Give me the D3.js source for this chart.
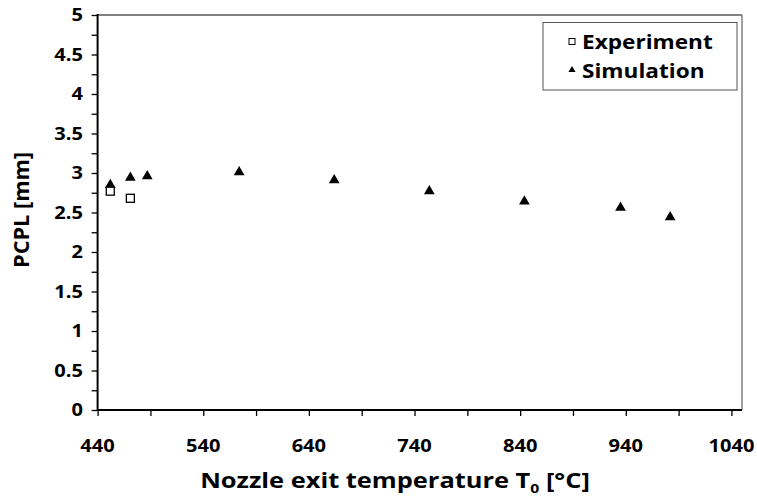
<!DOCTYPE html>
<html><head><meta charset="utf-8">
<script src="https://cdn.jsdelivr.net/npm/d3@7/dist/d3.min.js"></script>
<style>body{margin:0;background:#fff}svg text{font-family:"Open Sans",sans-serif;font-weight:bold;fill:#000}</style>
</head><body>
<svg id="c" width="757" height="499"></svg>
<script>
const seriesNames = ["Experiment", "Simulation"];
const expTemp = [452, 471];
const expPCPL = [2.77, 2.68];
const simTemp = [452, 471, 487, 574, 664, 754, 844, 935, 982];
const simPCPL = [2.85, 2.94, 2.96, 3.01, 2.91, 2.77, 2.64, 2.56, 2.44];
const xTickLabels = [440, 540, 640, 740, 840, 940, 1040];
const xMinorTicks = [440, 490, 540, 590, 640, 690, 740, 790, 840, 890, 940, 990, 1040];
const yTickLabels = [0, 0.5, 1, 1.5, 2, 2.5, 3, 3.5, 4, 4.5, 5];
const yMinorTicks = d3.range(0, 5.001, 0.25);
const xTitle = "Nozzle exit temperature T";
const yTitle = "PCPL [mm]";

const svg = d3.select("#c");
const L = 97.6, R = 742, T = 15, B = 410;
const x = d3.scaleLinear().domain([440, 1050]).range([L, R]);
const y = d3.scaleLinear().domain([0, 5]).range([B, T]);

// frame top/right (gray)
svg.append("line").attr("x1", L).attr("x2", R).attr("y1", T).attr("y2", T).attr("stroke", "#808080").attr("stroke-width", 2);
svg.append("line").attr("x1", R).attr("x2", R).attr("y1", T).attr("y2", B).attr("stroke", "#808080").attr("stroke-width", 1.5);

// axes
const xAxis = svg.append("g").attr("transform", `translate(0,${B})`)
  .call(d3.axisBottom(x).tickValues(xMinorTicks).tickSize(6).tickFormat(""));
const yAxis = svg.append("g").attr("transform", `translate(${L},0)`)
  .call(d3.axisLeft(y).tickValues(yMinorTicks).tickSize(6).tickFormat(""));
[xAxis, yAxis].forEach(g => {
  g.select(".domain").remove();
  g.selectAll(".tick line").attr("stroke", "#000").attr("stroke-width", 1.3);
});
svg.append("line").attr("x1", L).attr("x2", R).attr("y1", B).attr("y2", B).attr("stroke", "#000").attr("stroke-width", 2);
svg.append("line").attr("x1", L).attr("x2", L).attr("y1", T - 1).attr("y2", B + 1).attr("stroke", "#000").attr("stroke-width", 2);

function stretch(sel, k) {
  sel.each(function () {
    const w = this.getComputedTextLength();
    d3.select(this).attr("textLength", w * k).attr("lengthAdjust", "spacingAndGlyphs");
  });
}
function fitScale(node, cx, cy, target, rot) {
  const w = node.getBBox().width;
  const k = target / w;
  d3.select(node).attr("transform", `translate(${cx},${cy})${rot ? " rotate(-90)" : ""} scale(${k},1)`);
}

// tick labels
const xl = svg.append("g").selectAll("text").data(xTickLabels).join("text")
  .attr("x", d => x(d)).attr("y", 452).attr("text-anchor", "middle")
  .style("font-size", "17px").text(d => d);
stretch(xl, 1.18);
const yl = svg.append("g").selectAll("text").data(yTickLabels).join("text")
  .attr("x", 83).attr("y", d => y(d) + 6).attr("text-anchor", "end")
  .style("font-size", "17px").text(d => d);
stretch(yl, 1.18);

// axis titles
const xt = svg.append("text").attr("x", 0).attr("y", 0).attr("text-anchor", "middle").style("font-size", "21px");
xt.append("tspan").text(xTitle);
xt.append("tspan").attr("dy", 5).style("font-size", "13px").text("0");
xt.append("tspan").attr("dy", -5).text(" [°C]");
fitScale(xt.node(), 395, 488, 390, false);
const yt = svg.append("text").attr("x", 0).attr("y", 0)
  .attr("text-anchor", "middle").style("font-size", "21px").text(yTitle);
fitScale(yt.node(), 29, 210, 116, true);

// markers
const tri = d3.symbol().type(d3.symbolTriangle).size(50);
svg.append("g").selectAll("path").data(simTemp.map((t, i) => [t, simPCPL[i]])).join("path")
  .attr("d", tri).attr("transform", d => `translate(${x(d[0])},${y(d[1])})`).attr("fill", "#000");
svg.append("g").selectAll("rect").data(expTemp.map((t, i) => [t, expPCPL[i]])).join("rect")
  .attr("x", d => x(d[0]) - 4).attr("y", d => y(d[1]) - 4).attr("width", 8).attr("height", 8)
  .attr("fill", "#fff").attr("stroke", "#000").attr("stroke-width", 1.3);

// legend
const lg = svg.append("g");
lg.append("rect").attr("x", 543).attr("y", 22.5).attr("width", 194).attr("height", 67.5)
  .attr("fill", "#fff").attr("stroke", "#555").attr("stroke-width", 1);
lg.append("rect").attr("x", 569).attr("y", 38.5).attr("width", 6).attr("height", 6)
  .attr("fill", "#fff").attr("stroke", "#000").attr("stroke-width", 1);
lg.append("path").attr("d", d3.symbol().type(d3.symbolTriangle).size(22)).attr("transform", "translate(572,70)").attr("fill", "#000");
const lt = lg.selectAll("text.l").data(seriesNames).join("text").attr("class", "l")
  .attr("x", 582).attr("y", (d, i) => 48.5 + i * 29).style("font-size", "20px").text(d => d);
stretch(lt, 1.13);
</script>
</body></html>
